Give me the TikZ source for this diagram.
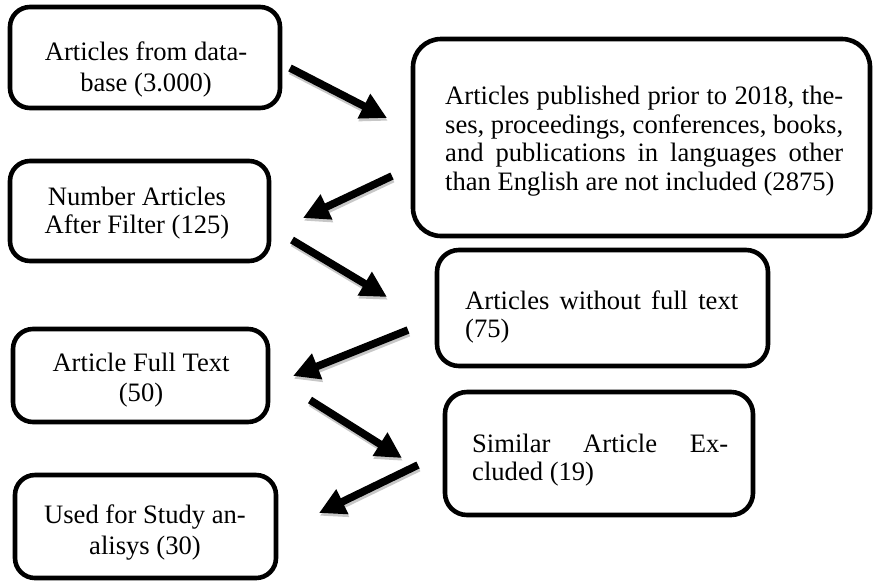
\documentclass[tikz,border=0pt]{standalone}
\usepackage{fontspec}
\setmainfont{Liberation Serif}
\usetikzlibrary{arrows.meta}
\tikzset{
  box/.style={draw=black, line width=4.6pt, rounded corners=20pt, inner sep=0pt},
  txt/.style={inner sep=0pt, font=\fontsize{26.6}{#1}\selectfont},
  txt/.default=30,
  flow/.style={line width=7.6pt, -{Triangle[length=26pt,width=26pt]},
    preaction={draw=black!22, line width=7.6pt, -{Triangle[length=26pt,width=26pt]},
      transform canvas={shift={(0.8pt,-2.8pt)}}}},
}
\begin{document}
\begin{tikzpicture}[x=1pt,y=-1pt]
\useasboundingbox (0,0) rectangle (874,582);
% boxes
\node[box, minimum width=270pt, minimum height=101pt] (b1) at (145,57.5) {};
\node[box, rounded corners=28pt, minimum width=457pt, minimum height=197pt] (b2) at (641.5,137.5) {};
\node[box, minimum width=259pt, minimum height=100pt] (b3) at (139.5,211) {};
\node[box, rounded corners=22pt, minimum width=331pt, minimum height=116pt] (b4) at (602.5,308) {};
\node[box, minimum width=255pt, minimum height=93pt] (b5) at (140.5,375.5) {};
\node[box, rounded corners=22pt, minimum width=308pt, minimum height=123pt] (b6) at (599,453.5) {};
\node[box, minimum width=261pt, minimum height=103pt] (b7) at (145.5,526.5) {};
% texts
\node[txt=31, align=center] (t1) at (146,69) {Articles from data-\\base (3.000)};
\node[txt=28.5, align=left, anchor=west] (t2) at (445,141) {%
\makebox[398pt][s]{Articles published prior to 2018, the-}\\
\makebox[398pt][s]{ses, proceedings, conferences, books,}\\
\makebox[398pt][s]{and publications in languages other}\\
than English are not included (2875)};
\node[txt=28.5, align=center] (t3) at (137,213) {Number Articles\\After Filter (125)};
\node[txt=28.5, align=left, anchor=west] (t4) at (465,317) {%
\makebox[273pt][s]{Articles without full text}\\(75)};
\node[txt=30, align=center] (t5) at (141,380) {Article Full Text\\(50)};
\node[txt=28.5, align=left, anchor=west] (t6) at (472,460) {%
\makebox[256pt][s]{Similar Article Ex-}\\cluded (19)};
\node[txt=31, align=center] (t7) at (145,532) {Used for Study an-\\alisys (30)};
% arrow ends
\coordinate (a1s) at (290,68);  \coordinate (a1e) at (387,118);
\coordinate (a2s) at (392,176); \coordinate (a2e) at (303,218);
\coordinate (a3s) at (292,240); \coordinate (a3e) at (387,297);
\coordinate (a4s) at (408,330); \coordinate (a4e) at (293,376);
\coordinate (a5s) at (310,400); \coordinate (a5e) at (402,458);
\coordinate (a6s) at (418,465); \coordinate (a6e) at (319,513);
\draw[flow] (a1s) -- (a1e);
\draw[flow] (a2s) -- (a2e);
\draw[flow] (a3s) -- (a3e);
\draw[flow] (a4s) -- (a4e);
\draw[flow] (a5s) -- (a5e);
\draw[flow] (a6s) -- (a6e);
\end{tikzpicture}
\end{document}
